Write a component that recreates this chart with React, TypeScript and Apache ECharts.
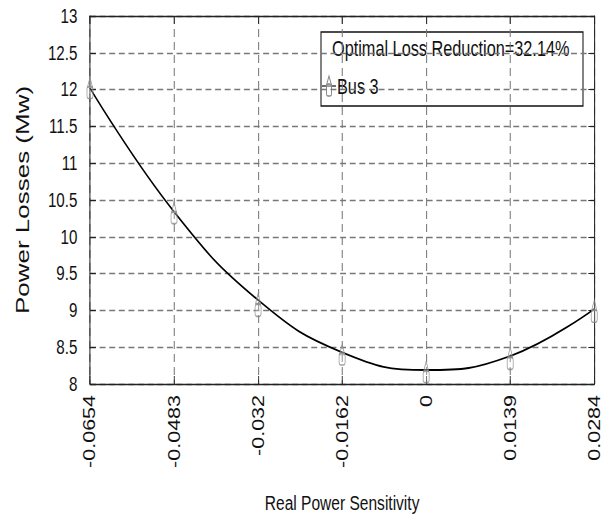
import React, { useEffect, useRef } from "react";
import * as echarts from "echarts";

const categories = ["-0.0654", "-0.0483", "-0.032", "-0.0162", "0", "0.0139", "0.0284"];
const curveValues = [12.02, 10.34, 9.14, 8.43, 8.19, 8.38, 9.02];
const triangleValues = [12.1, 10.4, 9.16, 8.47, 8.24, 8.43, 9.07];
const rectValues = [11.96, 10.26, 9.0, 8.34, 8.1, 8.28, 8.92];
const yTicks = { min: 8, max: 13, interval: 0.5 };
const legendTitle = "Optimal Loss Reduction=32.14%";
const seriesName = "Bus 3";
const xName = "Real Power Sensitivity";
const yName = "Power Losses (Mw)";

const FONT = "'Liberation Sans', Arial, sans-serif";
// the reference picture is horizontally compressed; draw wider, then squeeze
const SQ = 0.74;
const W = 611 / SQ;
const H = 518;
const sx = (x: number) => x / SQ;

export default function App() {
  const ref = useRef<HTMLDivElement>(null);
  useEffect(() => {
    if (!ref.current) return;
    const chart = echarts.init(ref.current, undefined, { renderer: "svg" });
    const gridLine = { show: true, lineStyle: { color: "#777", type: [8, 5], width: 1.4 } };
    const axisLine = { show: true, lineStyle: { color: "#222", width: 1.4 } };
    const tick = { show: true, inside: true, length: 8, lineStyle: { color: "#222", width: 1.2 } };
    const markerStyle = { color: "rgba(255,255,255,0.3)", borderColor: "#888", borderWidth: 1.3 };
    chart.setOption({
      animation: false,
      backgroundColor: "#fff",
      textStyle: { fontFamily: FONT },
      grid: { left: sx(90), right: sx(17), top: 16, bottom: 134, outerBoundsMode: "none", containLabel: false },
      xAxis: [
        {
          type: "category",
          data: categories,
          boundaryGap: false,
          axisLine,
          axisTick: tick,
          axisLabel: { rotate: 90, fontSize: 21.5, color: "#111", margin: 11, fontFamily: FONT },
          splitLine: gridLine,
          name: xName,
          nameLocation: "middle",
          nameGap: 108,
          nameTextStyle: { fontSize: 21, color: "#111", fontFamily: FONT },
        },
        {
          type: "category",
          data: categories,
          boundaryGap: false,
          position: "top",
          axisLine,
          axisTick: tick,
          axisLabel: { show: false },
          splitLine: { show: false },
        },
      ],
      yAxis: [
        {
          type: "value",
          min: yTicks.min,
          max: yTicks.max,
          interval: yTicks.interval,
          axisLine,
          axisTick: tick,
          axisLabel: { fontSize: 20.5, color: "#111", margin: 17, fontFamily: FONT },
          splitLine: gridLine,
          name: yName,
          nameLocation: "middle",
          nameRotate: 90,
          nameGap: 79,
          nameTextStyle: { fontSize: 26, fontWeight: "normal", color: "#111", fontFamily: FONT },
        },
        {
          type: "value",
          min: yTicks.min,
          max: yTicks.max,
          interval: yTicks.interval,
          position: "right",
          axisLine,
          axisTick: tick,
          axisLabel: { show: false },
          splitLine: { show: false },
        },
      ],
      series: [
        {
          name: seriesName,
          type: "line",
          data: curveValues,
          smooth: 0.45,
          showSymbol: false,
          lineStyle: { color: "#000", width: 1.8 },
          z: 3,
        },
        {
          name: seriesName + " triangle",
          type: "scatter",
          data: triangleValues,
          symbol: "triangle",
          symbolSize: [sx(5), 10],
          itemStyle: markerStyle,
          z: 4,
        },
        {
          name: seriesName + " rect",
          type: "scatter",
          data: rectValues,
          symbol: "roundRect",
          symbolSize: [sx(6), 12],
          itemStyle: markerStyle,
          z: 4,
        },
      ],
      graphic: [
        {
          type: "group",
          z: 100,
          children: [
            {
              type: "rect",
              shape: { x: sx(321), y: 32, width: sx(262), height: 74 },
              style: { fill: "#fff", stroke: "#111", lineWidth: 1.4 },
            },
            {
              type: "text",
              x: sx(332),
              y: 48,
              style: { text: legendTitle, fontSize: 22, fill: "#111", fontFamily: FONT, verticalAlign: "middle" },
            },
            {
              type: "line",
              shape: { x1: sx(322), y1: 86, x2: sx(336), y2: 86 },
              style: { stroke: "#222", lineWidth: 1.3 },
            },
            {
              type: "polygon",
              shape: { points: [[sx(329), 76], [sx(326.5), 85], [sx(331.5), 85]] },
              style: { fill: "rgba(255,255,255,0.3)", stroke: "#888", lineWidth: 1.3 },
            },
            {
              type: "rect",
              shape: { x: sx(326.5), y: 84, width: sx(5), height: 12, r: 2 },
              style: { fill: "rgba(255,255,255,0.3)", stroke: "#888", lineWidth: 1.3 },
            },
            {
              type: "text",
              x: sx(337),
              y: 86,
              style: { text: seriesName, fontSize: 22, fill: "#111", fontFamily: FONT, verticalAlign: "middle" },
            },
          ],
        },
      ],
    });
    return () => chart.dispose();
  }, []);
  return (
    <div
      ref={ref}
      style={{
        width: W,
        height: H,
        position: "absolute",
        left: 0,
        top: 0,
        transform: `scaleX(${SQ})`,
        transformOrigin: "0 0",
      }}
    />
  );
}
